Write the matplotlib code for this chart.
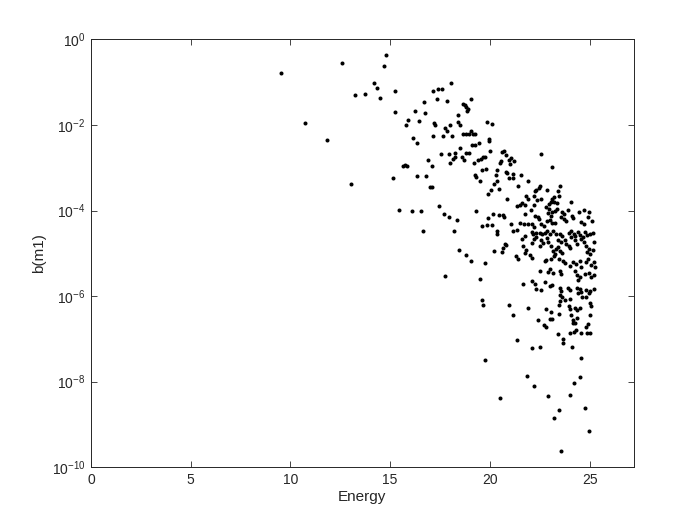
import numpy as np
import matplotlib
matplotlib.use('Agg')
import matplotlib.pyplot as plt
from matplotlib.ticker import NullLocator

plt.rcParams['font.family'] = ['Liberation Sans', 'DejaVu Sans']
plt.rcParams['mathtext.fontset'] = 'custom'
plt.rcParams['mathtext.rm'] = 'Liberation Sans'

# energy values
energy = [
    9.55, 10.72, 11.85, 12.56, 13.05, 13.24, 13.74, 14.21, 14.32, 14.47,
    14.68, 14.77, 15.22, 15.23, 15.12, 15.45, 15.63, 15.75, 15.84, 15.89,
    15.81, 16.09, 16.56, 16.14, 16.34, 16.24, 16.43, 16.37, 16.69, 16.75,
    16.78, 16.63, 16.92, 17.00, 17.08, 17.11, 17.14, 17.16, 17.41, 17.61,
    17.37, 17.18, 17.26, 17.45, 17.53, 17.65, 17.83, 17.68, 17.77, 17.77,
    17.85, 17.93, 17.97, 18.02, 18.02, 18.06, 18.12, 18.17, 18.18, 18.25,
    18.27, 18.34, 18.38, 18.41, 18.52, 18.47, 18.49, 18.59, 18.69, 18.64,
    18.74, 18.82, 18.90, 18.86, 18.64, 18.78, 18.96, 19.06, 19.13, 19.25,
    18.80, 18.78, 18.94, 19.05, 19.07, 19.12, 19.26, 19.44, 19.20, 19.40,
    19.54, 19.66, 19.73, 19.23, 19.31, 19.30, 19.49, 19.49, 19.58, 19.82,
    19.58, 19.60, 19.67, 19.73, 19.75, 19.83, 20.12, 19.88, 19.87, 20.10,
    19.91, 19.96, 19.98, 20.02, 20.08, 20.15, 20.19, 20.19, 20.31, 20.36,
    20.37, 20.35, 20.38, 20.44, 20.45, 20.50, 20.49, 20.57, 20.60, 20.69,
    20.83, 20.59, 20.64, 20.74, 20.80, 20.67, 20.70, 20.83, 20.88, 20.95,
    20.95, 21.00, 20.86, 20.97, 21.05, 21.23, 21.07, 21.16, 21.17, 21.17,
    21.35, 21.18, 21.31, 21.40, 21.35, 21.49, 21.61, 21.77, 21.37, 21.42,
    21.52, 21.55, 21.62, 21.64, 21.80, 21.75, 21.64, 21.69, 21.74, 21.77,
    21.82, 21.92, 21.88, 21.92, 21.91, 21.91, 22.01, 22.11, 22.08, 22.09,
    22.16, 22.11, 22.19, 22.11, 22.19, 22.29, 22.13, 22.24, 22.13, 22.23,
    22.21, 22.23, 22.24, 22.33, 22.44, 22.51, 22.28, 22.40, 22.46, 22.33,
    22.33, 22.36, 22.41, 22.49, 22.49, 22.53, 22.56, 22.54, 22.58, 22.66,
    22.53, 22.58, 22.58, 22.63, 22.73, 22.75, 22.73, 22.83, 22.75, 22.76,
    22.83, 22.83, 22.96, 22.83, 23.05, 22.85, 22.86, 22.86, 22.88, 22.91,
    22.91, 23.00, 22.93, 23.05, 23.10, 22.93, 22.96, 23.06, 23.13, 23.20,
    23.20, 23.00, 23.11, 23.25, 23.00, 23.13, 23.00, 23.13, 23.01, 23.16,
    23.08, 23.16, 23.08, 23.20, 23.11, 23.16, 23.23, 23.26, 23.38, 23.28,
    23.33, 23.43, 23.33, 23.36, 23.40, 23.45, 23.41, 23.46, 23.46, 23.50,
    23.46, 23.41, 23.48, 23.50, 23.50, 23.58, 23.50, 23.58, 23.50, 23.63,
    23.75, 23.53, 23.53, 23.63, 23.58, 23.58, 23.70, 23.83, 23.58, 23.60,
    23.71, 23.63, 23.66, 23.75, 23.66, 23.66, 23.75, 23.83, 23.95, 24.04,
    23.91, 23.91, 24.04, 23.95, 23.95, 24.04, 24.00, 24.00, 24.04, 24.04,
    24.05, 24.05, 24.09, 24.09, 24.10, 24.15, 24.10, 24.15, 24.27, 24.17,
    24.17, 24.20, 24.25, 24.20, 24.30, 24.23, 24.25, 24.25, 24.25, 24.34,
    24.37, 24.37, 24.37, 24.37, 24.37, 24.42, 24.42, 24.42, 24.47, 24.50,
    24.50, 24.50, 24.50, 24.54, 24.54, 24.59, 24.59, 24.59, 24.59, 24.59,
    24.59, 24.64, 24.67, 24.72, 24.70, 24.74, 24.75, 24.77, 24.79, 24.80,
    24.80, 24.80, 24.84, 24.84, 24.87, 24.87, 24.87, 24.92, 24.92, 24.94,
    24.95, 24.97, 24.97, 24.97, 24.97, 25.04, 25.04, 25.04, 25.04, 25.09,
    25.04, 25.04, 25.09, 25.09, 25.12, 25.17, 25.19, 25.20, 25.20, 25.20,
    25.22, 25.25,
]

# log10 of b(m1), same order as energy
log_b = [
    -0.78, -1.96, -2.35, -0.55, -3.39, -1.31, -1.27, -1.01, -1.13, -1.38,
    -0.62, -0.36, -1.21, -1.69, -3.25, -3.99, -2.95, -2.94, -2.96, -1.89,
    -2.00, -4.00, -4.00, -2.30, -2.42, -1.68, -1.91, -3.20, -1.47, -1.73,
    -3.19, -4.49, -2.83, -3.46, -3.45, -2.97, -2.26, -1.20, -1.16, -1.17,
    -1.39, -1.96, -1.99, -3.90, -2.68, -2.25, -2.15, -4.09, -2.06, -5.54,
    -1.44, -2.68, -4.14, -1.99, -2.89, -1.02, -2.25, -2.80, -4.49, -2.75,
    -2.66, -4.23, -1.77, -1.94, -1.99, -4.93, -2.55, -2.76, -2.81, -1.51,
    -1.54, -1.59, -1.63, -1.68, -2.20, -2.22, -2.20, -2.14, -2.21, -2.22,
    -5.04, -2.65, -2.65, -5.18, -1.40, -2.48, -2.48, -2.42, -2.88, -2.83,
    -2.79, -2.76, -2.74, -3.16, -3.22, -4.02, -3.30, -5.61, -3.06, -3.04,
    -4.35, -6.09, -6.21, -5.23, -7.50, -1.93, -1.97, -4.18, -4.33, -4.34,
    -3.61, -2.34, -2.38, -2.61, -3.53, -4.08, -3.37, -4.94, -3.18, -3.31,
    -3.05, -4.49, -4.56, -3.49, -4.10, -8.38, -2.89, -2.85, -2.64, -2.61,
    -2.71, -4.98, -4.87, -4.79, -4.81, -4.10, -4.16, -3.09, -3.13, -3.23,
    -2.81, -2.91, -3.73, -6.20, -2.78, -2.85, -4.31, -3.23, -3.15, -4.49,
    -4.45, -6.44, -5.07, -5.14, -3.89, -3.87, -3.82, -3.88, -7.02, -3.43,
    -4.30, -3.16, -4.66, -4.82, -4.92, -5.00, -5.72, -4.31, -4.59, -4.07,
    -3.67, -3.72, -7.86, -3.30, -6.27, -4.31, -5.05, -5.12, -3.98, -4.51,
    -4.56, -4.31, -4.39, -4.76, -4.67, -4.63, -5.64, -5.72, -7.21, -3.67,
    -3.88, -8.09, -3.55, -3.51, -3.47, -3.42, -4.13, -4.15, -4.20, -4.53,
    -5.84, -3.75, -6.56, -7.19, -5.41, -4.52, -3.74, -4.31, -4.68, -4.76,
    -4.84, -5.85, -2.69, -4.56, -4.35, -4.52, -6.68, -6.73, -5.68, -5.17,
    -5.15, -3.92, -3.97, -6.31, -6.37, -3.52, -4.49, -4.24, -4.65, -4.74,
    -5.43, -5.37, -4.05, -4.12, -4.04, -8.34, -3.84, -3.81, -3.74, -3.68,
    -3.79, -4.22, -4.28, -4.30, -5.76, -5.74, -6.54, -6.53, -4.55, -4.49,
    -4.84, -4.94, -5.13, -5.07, -2.99, -5.46, -8.84, -4.00, -3.97, -5.02,
    -4.91, -4.86, -4.56, -3.82, -3.55, -3.66, -4.70, -5.13, -6.20, -6.11,
    -6.41, -6.88, -8.66, -4.55, -5.41, -5.48, -5.82, -5.88, -5.97, -6.03,
    -6.09, -3.42, -4.95, -4.99, -4.74, -4.14, -4.19, -4.24, -9.63, -4.04,
    -4.08, -4.59, -5.17, -5.23, -7.00, -7.10, -4.68, -4.78, -4.83, -4.88,
    -3.98, -5.80, -5.85, -4.53, -6.23, -6.31, -5.29, -8.31, -6.07, -6.87,
    -3.81, -6.44, -4.49, -4.63, -4.13, -4.17, -7.19, -6.63, -6.62, -5.20,
    -6.56, -4.55, -4.59, -6.84, -6.80, -8.03, -4.70, -5.41, -6.27, -5.25,
    -4.78, -5.51, -5.82, -6.33, -6.52, -4.50, -5.62, -5.92, -4.04, -5.17,
    -5.56, -5.84, -6.27, -4.57, -7.89, -4.27, -4.66, -5.31, -5.90, -6.87,
    -7.44, -6.03, -4.61, -4.31, -4.73, -3.98, -5.48, -4.50, -8.61, -5.21,
    -6.03, -6.72, -4.82, -5.86, -4.57, -4.96, -6.87, -5.13, -6.66, -4.16,
    -4.03, -4.90, -5.45, -5.93, -9.15, -4.55, -5.02, -5.88, -6.15, -6.23,
    -6.44, -6.86, -5.27, -5.56, -4.24, -4.92, -4.53, -5.20, -5.51, -5.84,
    -4.74, -5.33,
]

x_ticks = [0, 5, 10, 15, 20, 25]
y_ticks = [1e-10, 1e-8, 1e-6, 1e-4, 1e-2, 1e0]

b_m1 = np.power(10.0, np.array(log_b))

ink = '#262626'
fig = plt.figure(figsize=(7, 5.25), dpi=100)
ax = fig.add_axes([0.13, 0.11, 0.775, 0.815])
ax.plot(energy, b_m1, 'o', color='black', markersize=2.9, markeredgewidth=0)

ax.set_yscale('log')
ax.set_xlim(0, 27.2)
ax.set_ylim(1e-10, 1e0)
ax.set_xticks(x_ticks)
ax.set_yticks(y_ticks)
ax.yaxis.set_minor_locator(NullLocator())
ax.tick_params(direction='in', top=True, right=True, length=4, width=0.6,
               labelsize=10, colors=ink, pad=4)
for s in ax.spines.values():
    s.set_color(ink)
    s.set_linewidth(0.7)
ax.set_xlabel('Energy', fontsize=11, color=ink, labelpad=2)
ax.set_ylabel('b(m1)', fontsize=11, color=ink, labelpad=4)

fig.savefig('out.png', dpi=100)
